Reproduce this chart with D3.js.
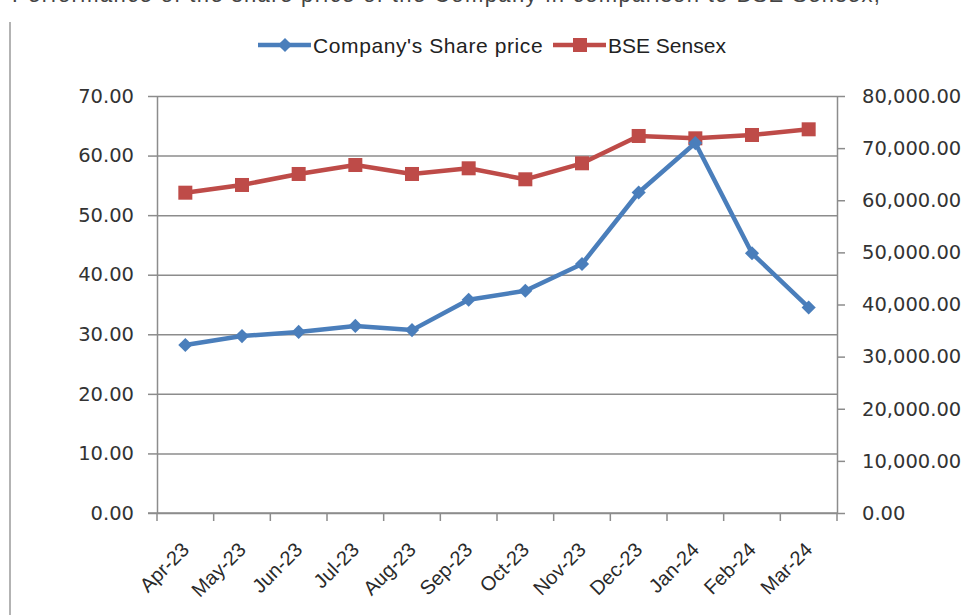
<!DOCTYPE html>
<html>
<head>
<meta charset="utf-8">
<script src="https://cdn.jsdelivr.net/npm/d3@7"></script>
<style>
  body { margin: 0; background: #fff; }
  svg { display: block; }
</style>
</head>
<body>
<div id="chart"></div>
<script>
// chart data
let months = ["Apr-23", "May-23", "Jun-23", "Jul-23", "Aug-23", "Sep-23",
              "Oct-23", "Nov-23", "Dec-23", "Jan-24", "Feb-24", "Mar-24"];
let sharePrice = [28.2, 29.7, 30.4, 31.4, 30.7, 35.8, 37.3, 41.8, 53.8, 62.1, 43.6, 34.5];
let sensex = [61450, 62930, 65040, 66760, 65040, 66130, 64020, 67090, 72330, 71880, 72520, 73610];
let leftTicks = [0, 10, 20, 30, 40, 50, 60, 70];
let rightTicks = [0, 10000, 20000, 30000, 40000, 50000, 60000, 70000, 80000];
let seriesNames = ["Company's Share price", "BSE Sensex"];

var W = 965, H = 615;
var plot = { left: 157, right: 837, top: 96, bottom: 513 };
var gridColor = "#8c8c8c", textColor = "#333";
var blue = "#4a7ebb", red = "#be4b48";

var svg = d3.select("#chart")
    .append("svg")
    .attr("width", W)
    .attr("height", H);

// heading, cut off at the top as in the original
svg.append("text")
    .attr("x", 12)
    .attr("y", 2)
    .attr("textLength", 868)
    .style("font-family", "Liberation Sans, Arial, sans-serif")
    .style("font-size", "22px")
    .style("fill", "#444")
    .text("Performance of the share price of the Company in comparison to BSE Sensex;");

// frame line on the left
svg.append("line")
    .attr("x1", 10).attr("x2", 10)
    .attr("y1", 22).attr("y2", H)
    .attr("stroke", "#9a9a9a")
    .attr("stroke-width", 1.5);

// scales
var x = d3.scaleBand()
    .domain(months)
    .range([plot.left, plot.right])
    .padding(0);
var yL = d3.scaleLinear().domain([0, 70]).range([plot.bottom, plot.top]);
var yR = d3.scaleLinear().domain([0, 80000]).range([plot.bottom, plot.top]);
function cx(d, i) { return x(months[i]) + x.bandwidth() / 2; }

// gridlines
svg.append("g")
    .attr("transform", "translate(" + plot.left + ",0)")
    .call(d3.axisLeft(yL).tickValues(leftTicks).tickSize(-(plot.right - plot.left)).tickFormat(""))
    .call(g => g.select(".domain").remove())
    .selectAll("line")
    .attr("stroke", gridColor)
    .attr("stroke-width", 1.5);

// left axis
var gl = svg.append("g")
    .attr("transform", "translate(" + plot.left + ",0)")
    .call(d3.axisLeft(yL).tickValues(leftTicks).tickSize(9).tickSizeOuter(0).tickPadding(14)
        .tickFormat(d3.format(".2f")));
gl.selectAll("line, path").attr("stroke", gridColor).attr("stroke-width", 1.5);
gl.selectAll("text")
    .style("font-family", "DejaVu Sans, Verdana, sans-serif")
    .style("font-size", "19.5px")
    .style("fill", textColor);

// right axis
var gr = svg.append("g")
    .attr("transform", "translate(" + plot.right + ",0)")
    .call(d3.axisRight(yR).tickValues(rightTicks).tickSize(8).tickSizeOuter(0).tickPadding(17)
        .tickFormat(d3.format(",.2f")));
gr.selectAll("line, path").attr("stroke", gridColor).attr("stroke-width", 1.5);
gr.selectAll("text")
    .style("font-family", "DejaVu Sans, Verdana, sans-serif")
    .style("font-size", "19.5px")
    .style("fill", textColor);

// bottom axis: ticks between categories
var gx = svg.append("g");
gx.append("line")
    .attr("x1", plot.left - 9).attr("x2", plot.right)
    .attr("y1", plot.bottom).attr("y2", plot.bottom)
    .attr("stroke", gridColor).attr("stroke-width", 1.5);
var bounds = months.map(m => x(m)).concat([x(months[months.length - 1]) + x.bandwidth()]);
gx.selectAll("line.tick")
    .data(bounds)
    .enter()
    .append("line")
    .attr("class", "tick")
    .attr("x1", d => d).attr("x2", d => d)
    .attr("y1", plot.bottom).attr("y2", plot.bottom + 8)
    .attr("stroke", gridColor).attr("stroke-width", 1.5);
gx.selectAll("text")
    .data(months)
    .enter()
    .append("text")
    .attr("transform", (d, i) => "translate(" + (cx(d, i) + 5) + "," + (plot.bottom + 38) + ")rotate(-45)")
    .style("text-anchor", "end")
    .style("font-family", "Liberation Sans, Arial, sans-serif")
    .style("font-size", "20px")
    .style("fill", "#2a2a2a")
    .text(d => d);

// lines
var lineL = d3.line().x(cx).y(d => yL(d));
var lineR = d3.line().x(cx).y(d => yR(d));

svg.append("path")
    .datum(sensex)
    .attr("d", lineR)
    .attr("fill", "none")
    .attr("stroke", red)
    .attr("stroke-width", 4.5)
    .attr("stroke-linejoin", "round");

svg.selectAll("rect.sensex")
    .data(sensex)
    .enter()
    .append("rect")
    .attr("class", "sensex")
    .attr("x", (d, i) => cx(d, i) - 7)
    .attr("y", d => yR(d) - 7)
    .attr("width", 14)
    .attr("height", 14)
    .attr("fill", red);

svg.append("path")
    .datum(sharePrice)
    .attr("d", lineL)
    .attr("fill", "none")
    .attr("stroke", blue)
    .attr("stroke-width", 4.5)
    .attr("stroke-linejoin", "round");

// diamond = square turned 45 degrees
var diamond = d3.symbol().type(d3.symbolSquare).size(100);
svg.selectAll("path.share")
    .data(sharePrice)
    .enter()
    .append("path")
    .attr("class", "share")
    .attr("d", diamond)
    .attr("transform", (d, i) => "translate(" + cx(d, i) + "," + yL(d) + ")rotate(45)")
    .attr("fill", blue);

// legend
var legend = [
    { name: seriesNames[0], color: blue, x: 258, mark: "diamond" },
    { name: seriesNames[1], color: red, x: 553, mark: "square" }
];
var lg = svg.selectAll("g.legend")
    .data(legend)
    .enter()
    .append("g")
    .attr("class", "legend")
    .attr("transform", d => "translate(" + d.x + ",45)");
lg.append("line")
    .attr("x1", 0).attr("x2", 53)
    .attr("y1", 0).attr("y2", 0)
    .attr("stroke", d => d.color)
    .attr("stroke-width", 4.5);
lg.filter(d => d.mark == "diamond").append("path")
    .attr("d", diamond)
    .attr("transform", "translate(27,0)rotate(45)")
    .attr("fill", d => d.color);
lg.filter(d => d.mark == "square").append("rect")
    .attr("x", 20).attr("y", -7)
    .attr("width", 14).attr("height", 14)
    .attr("fill", d => d.color);
lg.append("text")
    .attr("x", 55)
    .attr("y", 7.5)
    .style("font-family", "Liberation Sans, Arial, sans-serif")
    .style("font-size", "21px")
    .style("letter-spacing", d => d.mark == "diamond" ? "0.6px" : "0px")
    .style("fill", "#222")
    .text(d => d.name);
</script>
</body>
</html>
